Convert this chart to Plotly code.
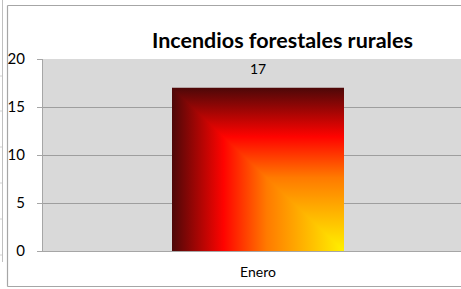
import plotly.graph_objects as go

# ---- data ----
categories = ["Enero"]
values = [17]
title_text = "Incendios forestales rurales"
y_ticks = [0, 5, 10, 15, 20]

# ---- layout geometry (pixels) ----
VIEW_W = 461              # visible window width; chart continues past it
W, H = 480, 289
ML, MR, MT, MB = 43, 0, 59, 38
plot_w = W - ML - MR
plot_h = H - MT - MB
cat_px = 430.0            # pixel span of one category slot
bar_frac = 0.4            # bar width as fraction of slot
x_lo = -0.5
x_hi = x_lo + plot_w / cat_px

def px_x(px):
    return (px - ML) / plot_w

def px_y(py):
    return (H - MB - py) / plot_h

FONT = "Lato, 'Open Sans', sans-serif"
fire = [[0.0, "#FFF200"], [0.45, "#FF7A00"], [0.70, "#FF0300"], [1.0, "#4D0808"]]
fire_rev = [[1 - p, c] for p, c in reversed(fire)]

fig = go.Figure()

xs = list(range(len(categories)))
# base bar (data), transparent fill: gradient painted on top
fig.add_trace(go.Bar(
    x=xs, y=values, width=bar_frac,
    marker=dict(color="rgba(0,0,0,0)", line=dict(width=0)),
    hoverinfo="skip", showlegend=False,
))

# gradient fill of each bar ("fire" preset, from bottom-right corner)
for xi, v in zip(xs, values):
    x0, x1 = xi - bar_frac / 2, xi + bar_frac / 2
    # whole bar: vertical gradient (yellow at bottom, dark at top)
    fig.add_trace(go.Scatter(
        x=[x0, x1, x1, x0, x0], y=[v, v, 0, 0, v], mode="lines",
        line=dict(width=0), fill="toself",
        fillgradient=dict(type="vertical", colorscale=fire),
        hoverinfo="skip", showlegend=False,
    ))
    # lower-left triangle: horizontal gradient (dark at left, yellow at right)
    fig.add_trace(go.Scatter(
        x=[x0, x0, x1, x0], y=[v, 0, 0, v], mode="lines",
        line=dict(width=0), fill="toself",
        fillgradient=dict(type="horizontal", colorscale=fire_rev),
        hoverinfo="skip", showlegend=False,
    ))
    fig.add_annotation(x=xi, y=v, text=str(v), showarrow=False,
                       yanchor="bottom", yshift=9,
                       font=dict(family=FONT, size=14, color="#000000"))

grey = "#A6A6A6"
shapes = []
# chart outer frame (left, top, bottom; right side is cut off)
frame = dict(color=grey, width=1.2)
shapes.append(dict(type="line", xref="paper", yref="paper",
                   x0=px_x(7.5), x1=px_x(7.5), y0=px_y(286.5), y1=px_y(5.5), line=frame))
shapes.append(dict(type="line", xref="paper", yref="paper",
                   x0=px_x(7.5), x1=px_x(W), y0=px_y(5.5), y1=px_y(5.5), line=frame))
shapes.append(dict(type="line", xref="paper", yref="paper",
                   x0=px_x(7.5), x1=px_x(W), y0=px_y(286.5), y1=px_y(286.5), line=frame))
# spreadsheet cell lines at far left
shapes.append(dict(type="line", xref="paper", yref="paper",
                   x0=px_x(2.5), x1=px_x(2.5), y0=px_y(262), y1=px_y(0),
                   line=dict(color="#C0C0C0", width=1)))
for yy in [76, 111, 147, 183, 219, 255]:
    shapes.append(dict(type="line", xref="paper", yref="paper",
                       x0=px_x(0), x1=px_x(2), y0=px_y(yy), y1=px_y(yy),
                       line=dict(color="#D0D0D0", width=1)))

fig.update_layout(
    width=W, height=H,
    margin=dict(l=ML, r=MR, t=MT, b=MB, pad=0),
    paper_bgcolor="white",
    plot_bgcolor="#D9D9D9",
    showlegend=False,
    shapes=shapes,
    font=dict(family=FONT, size=14, color="#000000"),
)
fig.add_annotation(xref="paper", yref="paper", x=px_x(282), y=px_y(40),
                   text="<b>" + title_text + "</b>", showarrow=False,
                   xanchor="center", yanchor="middle",
                   font=dict(family=FONT, size=21.5, color="#000000"))

fig.update_xaxes(
    range=[x_lo, x_hi], tickvals=xs, ticktext=categories,
    showgrid=False, zeroline=False,
    showline=True, linecolor=grey, linewidth=1,
    ticks="", tickfont=dict(family=FONT, size=14),
    ticklabelstandoff=8,
    fixedrange=True,
)
fig.update_yaxes(
    range=[0, 20], tickvals=y_ticks,
    showgrid=True, gridcolor="#9E9E9E", gridwidth=1,
    zeroline=False,
    showline=True, linecolor=grey, linewidth=1,
    ticks="outside", ticklen=5, tickcolor=grey,
    tickfont=dict(family=FONT, size=15),
    ticklabelstandoff=9,
    fixedrange=True,
)

fig.write_html("out.html", config={"displayModeBar": False},
               post_script=("document.documentElement.style.margin='0';"
                            "document.documentElement.style.overflow='hidden';"
                            "document.body.style.margin='0';"
                            "document.body.style.overflow='hidden';"))
